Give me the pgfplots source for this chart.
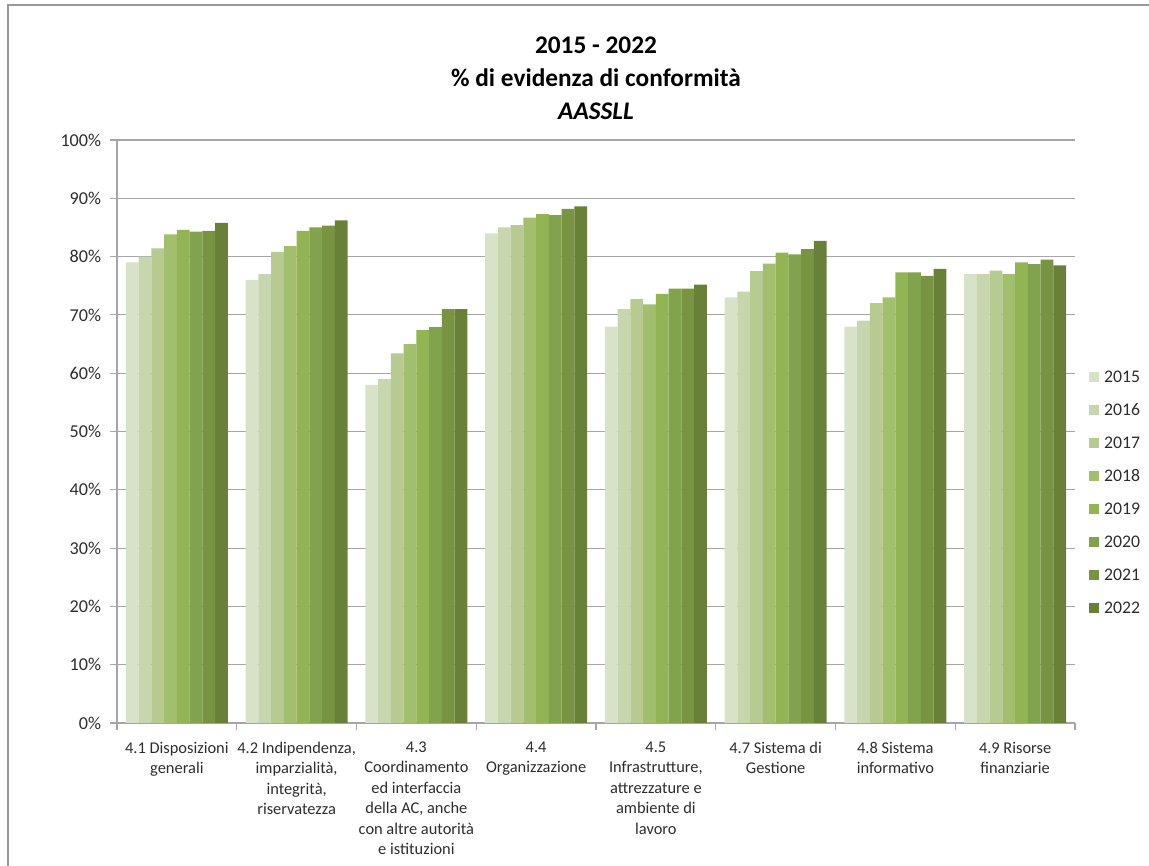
\documentclass[border=0pt]{standalone}
\usepackage{fontspec}
\setmainfont{Carlito}
\usepackage{pgfplots}
\usepackage{pgfplotstable}
\pgfplotsset{compat=1.18}
\definecolor{c1}{RGB}{216,226,200}
\definecolor{c2}{RGB}{200,214,175}
\definecolor{c3}{RGB}{182,202,146}
\definecolor{c4}{RGB}{163,190,110}
\definecolor{c5}{RGB}{146,180,85}
\definecolor{c6}{RGB}{130,163,77}
\definecolor{c7}{RGB}{120,148,66}
\definecolor{c8}{RGB}{104,128,56}
\definecolor{gridc}{RGB}{166,166,166}
\definecolor{txt}{RGB}{45,45,45}
\pgfplotsset{mybar/.style={fill=#1, draw=none, legend image code/.code={\fill[#1] (0pt,-3.75pt) rectangle (7.5pt,3.75pt);}}}
\pgfplotstableread{
x a b c d e f g h
0 79 80 81.4 83.8 84.6 84.3 84.4 85.8
1 76 77 80.8 81.8 84.4 85.0 85.3 86.2
2 58 59 63.4 65.0 67.4 67.9 71.0 71.0
3 84 85 85.4 86.7 87.3 87.1 88.2 88.6
4 68 71 72.7 71.8 73.6 74.5 74.5 75.2
5 73 74 77.5 78.8 80.7 80.4 81.3 82.7
6 68 69 72.0 73.0 77.3 77.3 76.7 77.9
7 77 77 77.6 77.0 79.0 78.7 79.5 78.5
}\datatable
\begin{document}
\begin{tikzpicture}
\begin{axis}[
  at={(0,0)}, anchor=south west,
  scale only axis, width=718.5pt, height=437.25pt,
  ybar=0pt, bar width=9.56pt,
  xmin=-0.5, xmax=7.5, ymin=0, ymax=100,
  axis x line*=bottom, axis y line*=left,
  axis line style={gridc, line width=0.8pt, -},
  xtick={0,...,7},
  xticklabels={{4.1 Disposizioni\\generali},{4.2 Indipendenza,\\imparzialità,\\integrità,\\riservatezza},{4.3\\Coordinamento\\ed interfaccia\\della AC, anche\\con altre autorità\\e istituzioni},{4.4\\Organizzazione},{4.5\\Infrastrutture,\\attrezzature e\\ambiente di\\lavoro},{4.7 Sistema di\\Gestione},{4.8 Sistema\\informativo},{4.9 Risorse\\finanziarie}},
  major x tick style={draw=none},
  minor xtick={-0.5,0.5,...,7.5},
  minor x tick style={gridc, line width=0.8pt},
  minor tick length=5pt,
  major tick length=5pt,
  tick align=outside,
  xtick pos=bottom, ytick pos=left,
  ytick={0,10,...,100},
  yticklabels={0\%,10\%,20\%,30\%,40\%,50\%,60\%,70\%,80\%,90\%,100\%},
  y tick style={gridc, line width=0.8pt},
  ymajorgrids, xmajorgrids=false,
  major grid style={gridc, line width=0.8pt},
  xticklabel style={align=center, anchor=north, inner sep=0pt, yshift=-9pt, font=\fontsize{12.3}{15.3}\selectfont, text=txt},
  yticklabel style={anchor=east, inner sep=0pt, xshift=-6.75pt, font=\fontsize{13.6}{13.6}\selectfont, text=txt},
  legend style={at={(1.0104,0.396)}, anchor=west, draw=none, fill=none,
    font=\fontsize{13.3}{13.3}\selectfont, text=txt, row sep=15.75pt,
    nodes={inner sep=0pt, text height=9pt, text depth=0pt},
    /tikz/every odd column/.append style={column sep=3.75pt}},
  legend cell align=left,
]
\addplot[mybar=c1] table[x=x,y=a]{\datatable};
\addplot[mybar=c2] table[x=x,y=b]{\datatable};
\addplot[mybar=c3] table[x=x,y=c]{\datatable};
\addplot[mybar=c4] table[x=x,y=d]{\datatable};
\addplot[mybar=c5] table[x=x,y=e]{\datatable};
\addplot[mybar=c6] table[x=x,y=f]{\datatable};
\addplot[mybar=c7] table[x=x,y=g]{\datatable};
\addplot[mybar=c8] table[x=x,y=h]{\datatable};
\legend{2015,2016,2017,2018,2019,2020,2021,2022}
\end{axis}
\node[align=center, font=\fontsize{19}{24.75}\selectfont\bfseries] at (359.25pt,483.75pt) {2015 - 2022\\\% di evidenza di conformità\\\textit{AASSLL}};
\draw[gray!80, line width=0.8pt] (-81.75pt,-120pt) -- (-81.75pt,538.5pt) -- (800pt,538.5pt);
\pgfresetboundingbox
\useasboundingbox (-87.75pt,-107.25pt) rectangle (774pt,542.25pt);
\end{tikzpicture}
\end{document}
